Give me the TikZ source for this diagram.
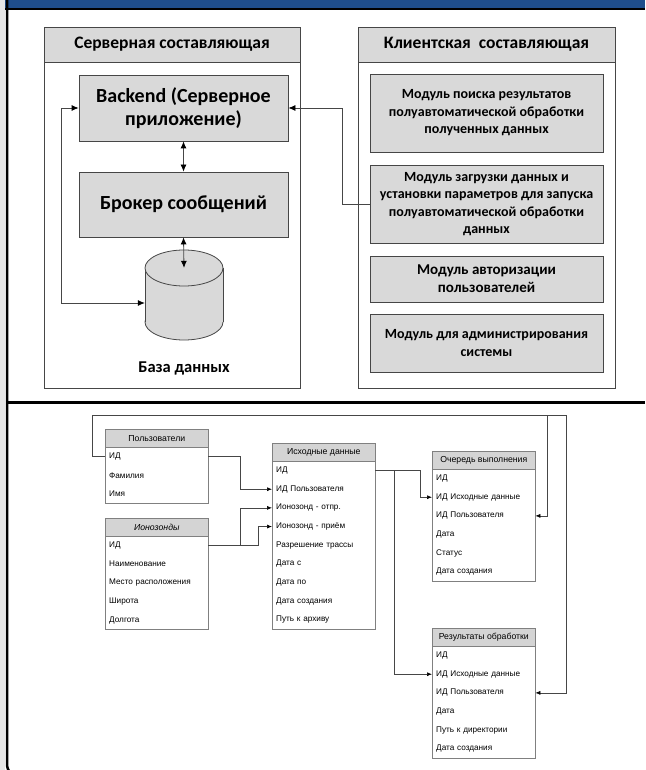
\documentclass[tikz,border=0pt]{standalone}
\usepackage{fontspec}
\setmainfont{Carlito}
\newfontfamily\arialfont{Liberation Sans}
\usetikzlibrary{arrows.meta,calc}

\definecolor{headblue}{RGB}{31,78,140}
\definecolor{boxgray}{RGB}{217,217,217}
\definecolor{headgray}{RGB}{212,212,212}
\definecolor{linegray}{RGB}{70,70,70}
\definecolor{framegray}{RGB}{230,230,230}

% table of the data scheme: name, left, top, number of rows, title, rows
\newcommand{\ertable}[6]{%
  \draw[erframe] (#2,#3) rectangle ++(103,{18+#4*18.67});
  \node[erhead,anchor=north west] (#1) at (#2,#3) {#5};
  \foreach \r [count=\i] in {#6} {
    \node[errow,anchor=north west] (#1-\i) at (#2,{#3+18+(\i-1)*18.67}) {\r};
  }
}

\begin{document}
\begin{tikzpicture}[x=1pt,y=1pt,yscale=-1,xscale=1,
    panel/.style={draw=linegray, fill=white, line width=0.8pt},
    paneltitle/.style={draw=linegray, fill=boxgray, line width=0.8pt, minimum width=256pt,
        minimum height=35pt, font=\bfseries\fontsize{17.5}{20}\selectfont},
    srvblock/.style={draw=linegray, fill=boxgray, line width=0.8pt, minimum width=209pt,
        align=center, font=\bfseries\fontsize{20}{22.5}\selectfont},
    module/.style={draw=linegray, fill=boxgray, line width=0.8pt, minimum width=233pt,
        align=center, font=\bfseries\fontsize{14}{17.5}\selectfont},
    bigarr/.style={-{Latex[length=7pt,width=6pt,color=black]}, draw=linegray, line width=0.8pt},
    dblarr/.style={{Latex[length=7pt,width=6pt,color=black]}-{Latex[length=7pt,width=6pt,color=black]},
        draw=linegray, line width=0.8pt},
    erframe/.style={draw=gray, line width=0.6pt},
    erhead/.style={draw=gray, fill=headgray, line width=0.6pt, minimum width=103pt, minimum height=18pt,
        inner sep=0pt, font=\arialfont\fontsize{8.7}{9}\selectfont},
    errow/.style={minimum height=18.67pt, text width=95pt, align=left, inner xsep=4pt, inner ysep=0pt,
        font=\arialfont\fontsize{8.2}{9}\selectfont},
    erarr/.style={-{Latex[length=5pt,width=4pt,color=black]}, draw=linegray, line width=0.6pt}]
  \useasboundingbox (0,0) rectangle (645,770);
  %frame
  \fill[framegray] (0,0) rectangle (5,770);
  \fill[headblue] (5,0) rectangle (645,8);
  \draw[line width=2.5pt] (5,9) -- (645,9);
  \draw[line width=2.5pt,rounded corners=14pt] (7,0) -- (7,778) -- (60,778);
  \draw[line width=3pt] (7,402) -- (645,402);
  %
  %server part
  \node[panel,minimum width=256pt,minimum height=361pt] (srv) at (172,207.5) {};
  \node[paneltitle,anchor=north] (srvtitle) at (srv.north) {Серверная составляющая};
  \node[srvblock,minimum height=66pt] (backend) at (183.5,108) {Backend (Серверное\\приложение)};
  \node[srvblock,minimum height=65pt] (broker) at (183.5,204.5) {Брокер сообщений};
  \node[minimum width=78pt,minimum height=90pt,inner sep=0pt] (db) at (184,295) {};
  \begin{scope}[shift={(db.center)},draw=linegray,line width=0.8pt]
    \draw[fill=boxgray] (0,27) ellipse (39 and 18);
    \fill[boxgray] (-39,-27) rectangle (39,27);
    \draw (-39,-27) -- (-39,27) (39,-27) -- (39,27);
    \draw[fill=boxgray] (0,-27) ellipse (39 and 18);
  \end{scope}
  \node[font=\bfseries\fontsize{16.5}{18}\selectfont] (dblabel) at (184,368) {База данных};
  %client part
  \node[panel,minimum width=257pt,minimum height=361pt] (cli) at (486.5,207.5) {};
  \node[paneltitle,minimum width=257pt,anchor=north] (clititle) at (cli.north) {Клиентская~~составляющая};
  \node[module,minimum height=78pt] (mod1) at (486.5,113) {Модуль поиска результатов\\полуавтоматической обработки\\полученных данных};
  \node[module,minimum height=78pt] (mod2) at (486.5,204) {Модуль загрузки данных и\\установки параметров для запуска\\полуавтоматической обработки\\данных};
  \node[module,minimum height=46pt,font=\bfseries\fontsize{15}{18}\selectfont] (mod3) at (486.5,279) {Модуль авторизации\\пользователей};
  \node[module,minimum height=58pt] (mod4) at (486.5,343) {Модуль для администрирования\\системы};
  %links
  \draw[dblarr] (backend) -- (broker);
  \draw[dblarr] (broker.south) -- ($(db.north)+(0,18)$);
  \draw[dblarr] (backend.west) -- ++(-17,0) |- ($(db.west)+(0,8)$);
  \draw[bigarr] (mod2.west) -- ++(-27,0) |- (backend.east);
  %
  %data scheme
  \ertable{usr}{105}{429}{3}{Пользователи}{ИД,Фамилия,Имя}
  \ertable{ion}{105}{518}{5}{\textit{Ионозонды}}{ИД,Наименование,Место расположения,Широта,Долгота}
  \ertable{src}{272}{443}{9}{Исходные данные}{ИД,ИД Пользователя,Ионозонд - отпр.,Ионозонд - приём,Разрешение трассы,Дата с,Дата по,Дата создания,Путь к архиву}
  \ertable{que}{432}{451}{6}{Очередь выполнения}{ИД,ИД Исходные данные,ИД Пользователя,Дата,Статус,Дата создания}
  \ertable{res}{432}{628}{6}{Результаты обработки}{ИД,ИД Исходные данные,ИД Пользователя,Дата,Путь к директории,Дата создания}
  %keys
  \coordinate (busl) at (92,415);
  \coordinate (busm) at (547,415);
  \coordinate (busr) at (566,415);
  \draw[erarr] (usr-1.east) -- ++(32,0) |- (src-2.west);
  \draw[erarr] (ion-1.east) -- ++(32,0) |- (src-3.west);
  \draw[erarr] (ion-1.east) -- ++(50,0) |- (src-4.west);
  \draw[erarr] (src-1.east) -- ++(45,0) |- (que-2.west);
  \draw[erarr] (src-1.east) -- ++(19,0) |- (res-2.west);
  \draw[erarr] (usr-1.west) -| (busl) -- (busr) |- (res-3.east);
  \draw[erarr] (busm) |- (que-3.east);
  %
\end{tikzpicture}
\end{document}
